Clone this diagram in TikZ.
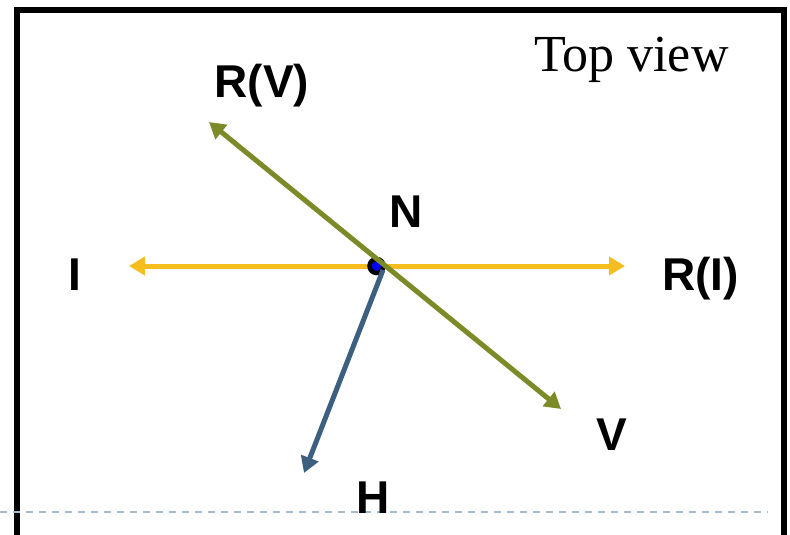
\documentclass[tikz,border=0pt]{standalone}
\usepackage{fontspec}
\setmainfont{Liberation Serif}
\setsansfont{Liberation Sans}
\usetikzlibrary{arrows.meta}
\definecolor{ray}{HTML}{F5BE1E}
\definecolor{olive}{HTML}{7D8A28}
\definecolor{hblue}{HTML}{3E6080}
\definecolor{dashc}{HTML}{A5BBCF}
\tikzset{
  lbl/.style={anchor=base, inner sep=0pt, font=\sffamily\bfseries\fontsize{46}{50}\selectfont},
  vec/.style={line width=5pt, -{Triangle[length=16pt,width=18pt]}},
  bivec/.style={line width=5pt, {Triangle[length=16pt,width=18pt]}-{Triangle[length=16pt,width=18pt]}},
}
\begin{document}
\begin{tikzpicture}[x=1pt,y=-1pt]
\useasboundingbox (0,0) rectangle (790,535);
\clip (0,0) rectangle (790,535);
% frame
\draw[line width=6.5pt] (17,560) -- (17,10) -- (784,10) -- (784,560);
% dashed line
\draw[dashc, line width=2pt, dash pattern=on 7pt off 6pt] (0,512) -- (768,512);
% tips
\coordinate (Itip) at (129,266);
\coordinate (RItip) at (625,266);
\coordinate (RVtip) at (209,122);
\coordinate (Vtip) at (561,409);
\coordinate (Htip) at (304,473);
\coordinate (Hstart) at (383,270);
% yellow
\draw[bivec, ray] (Itip) -- (RItip);
% N point
\node[circle, draw=black, fill=blue, line width=4.5pt, minimum size=14pt, inner sep=0pt] (N) at (376.5,266) {};
% H vector
\draw[vec, hblue] (Hstart) -- (Htip);
% green
\draw[bivec, olive] (RVtip) -- (Vtip);
% labels
\node[lbl] (lRV) at (262,98) {R(V)};
\node[lbl] (lN) at (406,227) {N};
\node[lbl] (lI) at (74.5,290) {I};
\node[lbl] (lRI) at (700.5,290) {R(I)};
\node[lbl] (lV) at (612,450) {V};
\node[lbl] (lH) at (373,513) {H};
\node[anchor=base, inner sep=0pt, font=\rmfamily\fontsize{52}{56}\selectfont] (top) at (631.5,72) {Top view};
\end{tikzpicture}
\end{document}
